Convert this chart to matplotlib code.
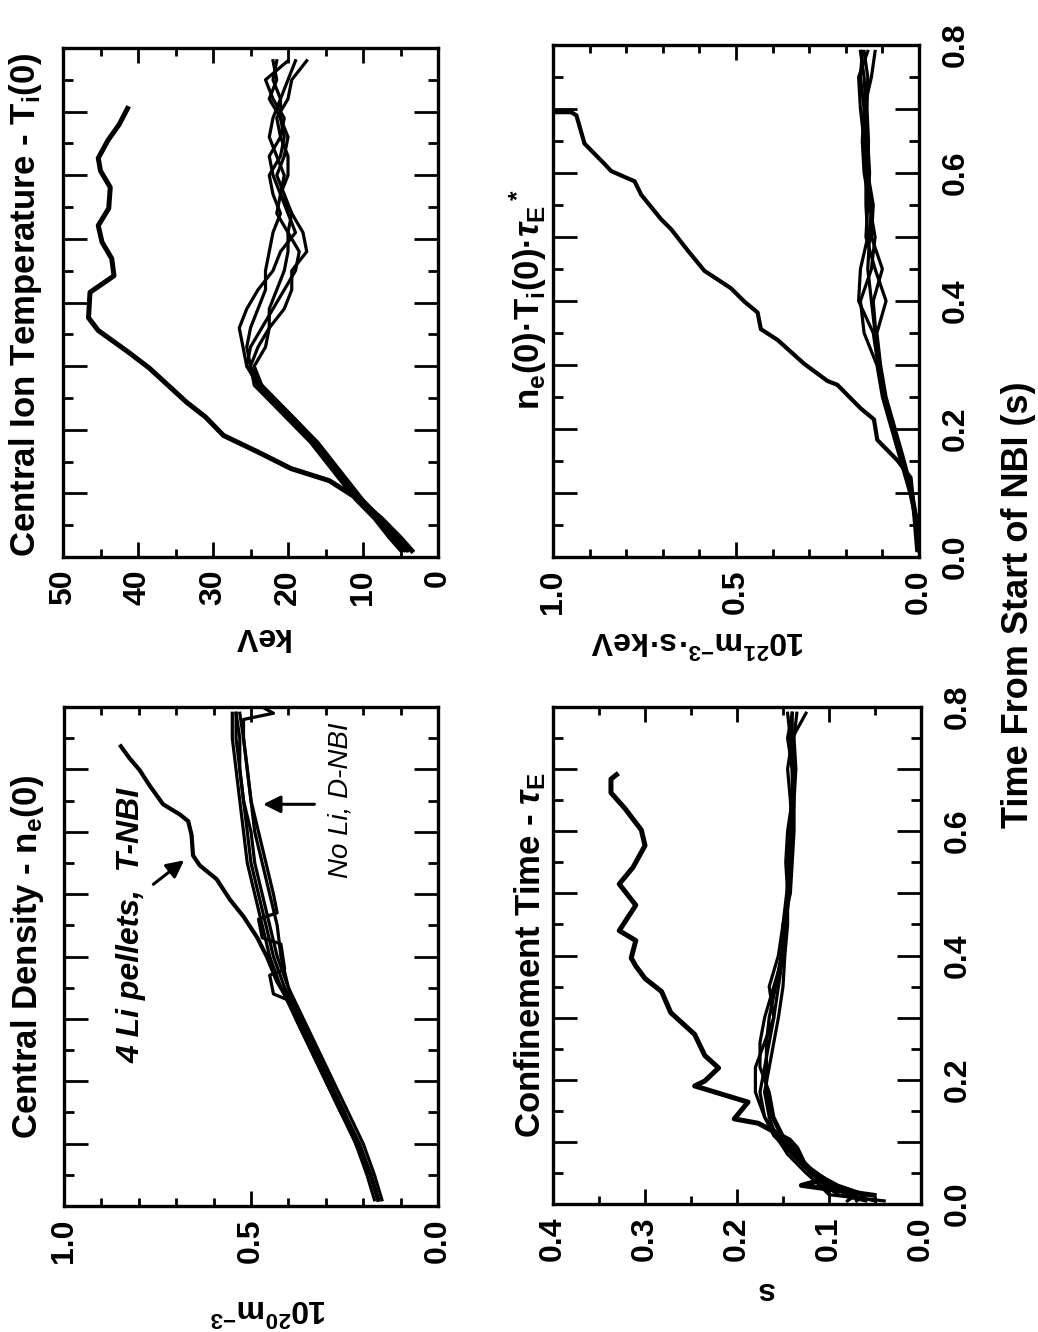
import matplotlib
matplotlib.use('Agg')
import matplotlib.pyplot as plt
from matplotlib.ticker import MultipleLocator, FormatStrFormatter, FuncFormatter

# Fonts: bold sans everywhere, math in the same face.
plt.rcParams['font.family'] = ['Liberation Sans', 'DejaVu Sans']
plt.rcParams['font.weight'] = 'bold'
plt.rcParams['mathtext.fontset'] = 'custom'
plt.rcParams['mathtext.rm'] = 'Liberation Sans:bold'
plt.rcParams['mathtext.it'] = 'Liberation Sans:italic:bold'
plt.rcParams['mathtext.bf'] = 'Liberation Sans:bold'
plt.rcParams['mathtext.default'] = 'rm'

# ---------------- data (time in s) ----------------
# Central ion temperature (keV)
ti_li_t = [0.01, 0.03, 0.06, 0.09, 0.12, 0.139, 0.165, 0.191, 0.22, 0.244, 0.27, 0.297,
           0.323, 0.356, 0.376, 0.416, 0.442, 0.469, 0.495, 0.521, 0.548, 0.581, 0.607,
           0.627, 0.655, 0.68, 0.705]
ti_li = [3.5, 5, 7.5, 10.5, 14.5, 19.6, 24, 28.6, 31, 33.6, 36, 38.5, 41.4, 45.3, 46.6,
         46.4, 43.2, 43.5, 44.8, 45.3, 43.9, 43.7, 45, 45.3, 44, 42.5, 41.4]
ti_d_t = [0.01, 0.03, 0.06, 0.09, 0.12, 0.15, 0.18, 0.21, 0.24, 0.27, 0.30, 0.33, 0.36,
          0.39, 0.42, 0.45, 0.48, 0.51, 0.54, 0.57, 0.60, 0.63, 0.66, 0.69, 0.72, 0.75, 0.78]
ti_d1 = [4.5, 6, 8, 10.5, 12.5, 14.5, 16.5, 19, 21.5, 24, 25.5, 25, 23.5, 22, 20.5, 19,
         18.5, 20, 21.5, 21, 20.5, 21.5, 22.5, 22, 21, 22, 21.5]
ti_d2 = [4.0, 5.5, 7.5, 10, 12, 14, 16, 18.5, 21, 23.5, 25.5, 26, 26.5, 25.5, 24, 22,
         21, 19, 20, 21, 22, 22.5, 21, 20.5, 22, 23, 20]
ti_d3 = [5.0, 6.5, 8.5, 11, 13, 15, 17, 19.5, 22, 24.5, 25, 24, 22.5, 20.5, 19.5, 19.5,
         17.5, 18, 19.5, 21, 20, 20, 21, 21.5, 20, 19.5, 17.5]
ti_d4 = [4.2, 5.8, 7.8, 10.2, 12.2, 14.2, 16.2, 18.5, 21, 23.5, 25, 25.5, 25, 24, 23,
         23, 22.5, 22, 21, 22, 22.5, 21, 20.5, 21, 22.5, 21.5, 22]
ti_d5 = [4.8, 6.2, 8.2, 10.8, 12.8, 14.8, 16.8, 19.2, 21.5, 23.5, 24.5, 23, 22.5, 22.5,
         21.5, 20.5, 20, 20, 19.5, 20.5, 21.5, 20.5, 20, 21, 21, 20, 19]

# Fusion product n_e(0) T_i(0) tau_E* (10^21 m^-3 s keV)
ntt_li_t = [0.011, 0.06, 0.124, 0.151, 0.183, 0.215, 0.232, 0.269, 0.275, 0.302, 0.339,
            0.356, 0.382, 0.399, 0.42, 0.447, 0.479, 0.512, 0.528, 0.566, 0.587, 0.603,
            0.614, 0.646, 0.69, 0.695, 0.695]
ntt_li = [0.005, 0.012, 0.023, 0.059, 0.114, 0.123, 0.159, 0.223, 0.25, 0.314, 0.386,
          0.432, 0.441, 0.477, 0.514, 0.586, 0.632, 0.677, 0.705, 0.759, 0.777, 0.841,
          0.859, 0.914, 0.936, 0.95, 0.995]
ntt_d_t = [0.01, 0.05, 0.1, 0.15, 0.2, 0.25, 0.3, 0.35, 0.4, 0.45, 0.5, 0.55, 0.6, 0.65,
           0.7, 0.75, 0.79]
ntt_d1 = [0.0, 0.004, 0.02, 0.045, 0.07, 0.095, 0.11, 0.12, 0.13, 0.14, 0.135, 0.13,
          0.14, 0.145, 0.15, 0.16, 0.155]
ntt_d2 = [0.0, 0.006, 0.025, 0.05, 0.075, 0.1, 0.115, 0.15, 0.16, 0.13, 0.12, 0.135,
          0.15, 0.155, 0.15, 0.13, 0.12]
ntt_d3 = [0.0, 0.003, 0.018, 0.04, 0.065, 0.09, 0.105, 0.115, 0.09, 0.12, 0.145, 0.14,
          0.135, 0.14, 0.145, 0.15, 0.16]
ntt_d4 = [0.0, 0.005, 0.022, 0.048, 0.072, 0.097, 0.112, 0.125, 0.165, 0.16, 0.14, 0.145,
          0.145, 0.15, 0.16, 0.165, 0.14]
ntt_d5 = [0.0, 0.004, 0.02, 0.044, 0.068, 0.092, 0.108, 0.118, 0.125, 0.1, 0.13, 0.125,
          0.14, 0.138, 0.142, 0.14, 0.15]

# Central density (10^20 m^-3)
ne_li_t = [0.01, 0.05, 0.1, 0.15, 0.2, 0.25, 0.3, 0.36, 0.399, 0.431, 0.464, 0.491,
           0.524, 0.546, 0.562, 0.595, 0.617, 0.628, 0.644, 0.674, 0.699, 0.718, 0.737]
ne_li = [0.16, 0.18, 0.215, 0.255, 0.29, 0.33, 0.37, 0.43, 0.457, 0.484, 0.52, 0.556,
         0.592, 0.637, 0.655, 0.659, 0.668, 0.691, 0.735, 0.771, 0.798, 0.825, 0.848]
ne_d_t = [0.01, 0.05, 0.1, 0.15, 0.2, 0.25, 0.3, 0.35, 0.4, 0.45, 0.5, 0.55, 0.6, 0.65,
          0.7, 0.75, 0.79]
ne_d1 = [0.16, 0.18, 0.21, 0.25, 0.29, 0.33, 0.37, 0.41, 0.44, 0.46, 0.48, 0.5, 0.51,
         0.52, 0.53, 0.53, 0.54]
ne_d2 = [0.15, 0.17, 0.2, 0.24, 0.28, 0.32, 0.36, 0.40, 0.42, 0.43, 0.45, 0.47, 0.49,
         0.5, 0.51, 0.52, 0.53]
ne_d4 = [0.16, 0.18, 0.21, 0.26, 0.3, 0.34, 0.38, 0.42, 0.45, 0.47, 0.49, 0.51, 0.52,
         0.53, 0.54, 0.55, 0.55]
ne_d5 = [0.16, 0.18, 0.22, 0.25, 0.29, 0.33, 0.37, 0.40, 0.43, 0.45, 0.47, 0.49, 0.50,
         0.52, 0.53, 0.54, 0.54]
ne_d3_t = [0.01, 0.05, 0.1, 0.15, 0.2, 0.25, 0.3, 0.33, 0.34, 0.37, 0.38, 0.42, 0.43,
           0.46, 0.47, 0.5, 0.55, 0.6, 0.65, 0.7, 0.75, 0.78, 0.79, 0.8]
ne_d3 = [0.17, 0.19, 0.22, 0.26, 0.30, 0.34, 0.38, 0.40, 0.44, 0.45, 0.41, 0.42, 0.47,
         0.48, 0.43, 0.44, 0.46, 0.48, 0.5, 0.51, 0.52, 0.52, 0.44, 0.47]

# Confinement time (s)
tau_li_t = [0.014, 0.03, 0.04, 0.062, 0.09, 0.103, 0.13, 0.137, 0.164, 0.19, 0.198,
            0.219, 0.239, 0.273, 0.308, 0.342, 0.363, 0.383, 0.396, 0.424, 0.44, 0.481,
            0.515, 0.542, 0.577, 0.602, 0.637, 0.662, 0.684, 0.691]
tau_li = [0.051, 0.13, 0.105, 0.126, 0.135, 0.143, 0.177, 0.203, 0.188, 0.246, 0.235,
          0.22, 0.235, 0.246, 0.272, 0.282, 0.3, 0.31, 0.315, 0.31, 0.328, 0.31, 0.328,
          0.313, 0.3, 0.304, 0.322, 0.337, 0.337, 0.331]
tau_d_t = [0.005, 0.015, 0.03, 0.05, 0.08, 0.11, 0.14, 0.18, 0.22, 0.26, 0.3, 0.35, 0.4,
           0.45, 0.5, 0.55, 0.6, 0.65, 0.7, 0.75, 0.79]
tau_d1 = [0.05, 0.08, 0.1, 0.12, 0.14, 0.16, 0.17, 0.175, 0.17, 0.165, 0.16, 0.155, 0.15,
          0.148, 0.145, 0.145, 0.142, 0.14, 0.14, 0.14, 0.14]
tau_d2 = [0.07, 0.06, 0.09, 0.115, 0.135, 0.15, 0.16, 0.165, 0.175, 0.175, 0.17, 0.16,
          0.15, 0.15, 0.146, 0.143, 0.14, 0.142, 0.145, 0.14, 0.125]
tau_d3 = [0.04, 0.1, 0.11, 0.125, 0.145, 0.158, 0.165, 0.17, 0.165, 0.16, 0.155, 0.15,
          0.148, 0.145, 0.145, 0.147, 0.145, 0.14, 0.138, 0.142, 0.145]
tau_d4 = [0.06, 0.09, 0.105, 0.12, 0.14, 0.155, 0.17, 0.18, 0.18, 0.17, 0.16, 0.165,
          0.155, 0.15, 0.142, 0.14, 0.138, 0.138, 0.14, 0.145, 0.14]
tau_d5 = [0.08, 0.07, 0.095, 0.118, 0.138, 0.152, 0.162, 0.168, 0.168, 0.168, 0.165,
          0.158, 0.152, 0.147, 0.143, 0.142, 0.14, 0.138, 0.136, 0.138, 0.135]

TIME_MAX = 0.8
LW_LI = 3.6
LW_D = 2.3

W, H = 1038, 1332
fig = plt.figure(figsize=(W / 100, H / 100), dpi=100)


def px_axes(x0, y0, x1, y1):
    '''axes from pixel box (y measured from the top)'''
    return fig.add_axes([x0 / W, 1 - y1 / H, (x1 - x0) / W, (y1 - y0) / H])


def fig_text(x, y, s, **kw):
    fig.text(x / W, 1 - y / H, s, ha='center', va='center', **kw)


def setup(ax, vmax, vmajor, vminor, fmt, time_labels):
    # page is turned: value runs right-to-left, time runs upwards
    ax.set_xlim(vmax, 0)
    ax.set_ylim(0, TIME_MAX)
    ax.xaxis.set_major_locator(MultipleLocator(vmajor))
    ax.xaxis.set_minor_locator(MultipleLocator(vminor))
    ax.xaxis.set_major_formatter(FormatStrFormatter(fmt))
    ax.yaxis.set_major_locator(MultipleLocator(0.1))
    ax.yaxis.set_minor_locator(MultipleLocator(0.05))
    ax.yaxis.set_major_formatter(
        FuncFormatter(lambda v, p: '%.1f' % v if round(v * 10) % 2 == 0 else ''))
    ax.tick_params(which='both', direction='in', top=True, bottom=True,
                   left=True, right=True, width=2, labelsize=23)
    ax.tick_params(axis='x', which='major', length=11, pad=9, labelrotation=90)
    ax.tick_params(axis='x', which='minor', length=6)
    ax.tick_params(axis='y', which='major', length=17, pad=16, labelrotation=90,
                   labelleft=False, labelright=time_labels)
    ax.tick_params(axis='y', which='minor', length=7)
    for lab in ax.get_yticklabels():
        lab.set_va('center')
    for sp in ax.spines.values():
        sp.set_linewidth(2.4)


# ---------------- Central ion temperature ----------------
ax_ti = px_axes(63, 48, 438, 557)
setup(ax_ti, 50, 10, 5, '%d', False)
ax_ti.plot(ti_li, ti_li_t, color='k', lw=LW_LI, solid_joinstyle='round')
for s in (ti_d1, ti_d2, ti_d3, ti_d4, ti_d5):
    ax_ti.plot(s, ti_d_t, color='k', lw=LW_D)

# ---------------- n T tau ----------------
ax_ntt = px_axes(553, 45, 919, 557)
setup(ax_ntt, 1.0, 0.5, 0.1, '%.1f', True)
ax_ntt.plot(ntt_li, ntt_li_t, color='k', lw=LW_LI - 0.6)
for s in (ntt_d1, ntt_d2, ntt_d3, ntt_d4, ntt_d5):
    ax_ntt.plot(s, ntt_d_t, color='k', lw=LW_D)

# ---------------- Central density ----------------
ax_ne = px_axes(64, 707, 438, 1206)
setup(ax_ne, 1.0, 0.5, 0.1, '%.1f', False)
ax_ne.plot(ne_li, ne_li_t, color='k', lw=LW_LI - 0.6)
for s in (ne_d1, ne_d2, ne_d4, ne_d5):
    ax_ne.plot(s, ne_d_t, color='k', lw=LW_D)
ax_ne.plot(ne_d3, ne_d3_t, color='k', lw=LW_D)
ax_ne.text(0.82, 0.45, '4 Li pellets,  T-NBI', rotation=90, ha='center', va='center',
           fontsize=23, fontstyle='italic', fontweight='bold')
ax_ne.text(0.26, 0.65, 'No Li, D-NBI', rotation=90, ha='center', va='center',
           fontsize=20, fontstyle='italic', fontweight='normal')
ax_ne.annotate('', xy=(0.673, 0.557), xytext=(0.767, 0.513),
               arrowprops=dict(arrowstyle='-|>', color='k', lw=2.2, mutation_scale=26))
ax_ne.annotate('', xy=(0.475, 0.644), xytext=(0.323, 0.644),
               arrowprops=dict(arrowstyle='-|>', color='k', lw=2.2, mutation_scale=26))

# ---------------- Confinement time ----------------
ax_tau = px_axes(553, 707, 921, 1204)
setup(ax_tau, 0.4, 0.1, 0.05, '%.1f', True)
ax_tau.plot(tau_li, tau_li_t, color='k', lw=LW_LI)
for s in (tau_d1, tau_d2, tau_d3, tau_d4, tau_d5):
    ax_tau.plot(s, tau_d_t, color='k', lw=LW_D)

# ---------------- titles and axis labels ----------------
fig_text(26, 305, 'Central Ion Temperature - T$_i$(0)', rotation=90, fontsize=25)
fig_text(528, 300, r'n$_e$(0)·T$_i$(0)·$\mathit{\tau}_E$$^*$', rotation=90, fontsize=25)
fig_text(28, 957, 'Central Density - n$_e$(0)', rotation=90, fontsize=25)
fig_text(530, 955, r'Confinement Time - $\mathit{\tau}_E$', rotation=90, fontsize=25)

fig_text(260, 636, 'keV', rotation=180, fontsize=23)
fig_text(698, 640, '10$^{21}$m$^{-3}$·s·keV', rotation=180, fontsize=23)
fig_text(268, 1308, '10$^{20}$m$^{-3}$', rotation=180, fontsize=23)
fig_text(765, 1290, 's', rotation=180, fontsize=23)

fig_text(1018, 605, 'Time From Start of NBI (s)', rotation=90, fontsize=26)

fig.savefig('out.png', dpi=100)
